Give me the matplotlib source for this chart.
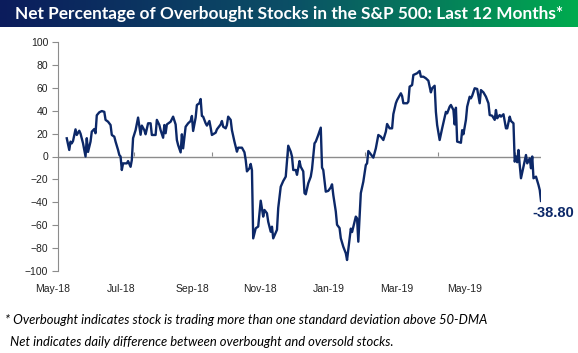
import numpy as np
import pandas as pd
import matplotlib
matplotlib.use("Agg")
import matplotlib.pyplot as plt
from matplotlib.colors import LinearSegmentedColormap
from matplotlib import transforms

# days since 2018-05-01 and net % overbought
days = [7, 9, 10, 11, 12, 14, 15, 17, 18, 20, 22, 23, 24, 26, 27, 29, 30, 31, 33, 35,
        37, 38, 40, 42, 43, 45, 46, 48, 49, 50, 51, 52, 55, 56, 58, 59, 60, 62, 64, 66,
        67, 69, 70, 72, 74, 75, 78, 79, 81, 82, 84, 85, 86, 87, 90, 92, 94, 95, 96, 98,
        99, 100, 102, 104, 106, 107, 108, 110, 111, 113, 114, 115, 116, 118, 119, 121, 122, 123, 126, 127,
        130, 131, 132, 134, 135, 136, 138, 139, 141, 143, 144, 147, 149, 150, 151, 153, 154, 155, 156, 158,
        160, 162, 164, 165, 167, 168, 170, 171, 172, 175, 176, 178, 180, 182, 184, 186, 187, 188, 190, 191,
        193, 194, 196, 197, 198, 200, 202, 203, 205, 206, 208, 210, 211, 212, 214, 216, 218, 219, 220, 222,
        223, 225, 226, 228, 230, 231, 233, 234, 235, 238, 239, 240, 242, 244, 246, 247, 248, 250, 252, 254,
        256, 258, 260, 262, 263, 265, 267, 268, 270, 271, 274, 275, 276, 279, 280, 281, 283, 284, 287, 289,
        290, 292, 294, 296, 298, 299, 301, 302, 303, 305, 307, 310, 311, 313, 314, 316, 317, 318, 319, 322,
        323, 324, 326, 327, 329, 330, 331, 333, 335, 337, 338, 340, 342, 344, 345, 347, 349, 350, 351, 353,
        354, 356, 358, 359, 361, 362, 364, 365, 366, 367, 368, 369, 370, 372, 374, 375, 377, 378, 379, 380,
        382, 384, 385, 386]
net = [15.9, 5.7, 13, 11.5, 13.5, 23.7, 18.8, 22.5, 20, 11.5, 0, 16, 4, 13, 21.7, 24, 20.3, 36, 38.6, 39.7,
       39, 32, 30.4, 27.5, 18.8, 17.3, 13, 5.7, 1.3, 0, -11.8, -6, -6, -4, -9, -3, 16, 23, 34, 19,
       27, 23, 19.4, 29, 29, 18.8, 18.8, 32, 27.5, 23, 16.4, 27.5, 20.3, 28, 30.4, 34.8, 28, 14.4, 10, 3.6,
       19.4, 7.1, 26, 29, 31, 35.4, 22.3, 34, 45, 46.5, 50.2, 35.4, 34.8, 29, 27, 31, 25.2, 18.8, 20.8, 23.7,
       28, 31, 26, 24.6, 27.5, 34.8, 32, 23, 13, 4.2, 7.7, 7.7, 3.7, -3, -13, -10.3, -6.5, -12, -71.5, -62.7,
       -61.2, -38.6, -52.5, -46.7, -49.6, -57, -65.7, -61.3, -71.5, -64, -45, -26.4, -21.4, -17.6, 9.4, 4.2, 0, -11.8, -11.8, -16,
       -4, -9, -13, -32, -33, -23.4, -17.6, -11, 11.5, 13, 18.8, 25.2, -9.7, -11.8, -30.7, -30, -27, -24.3, -33.6, -48,
       -59.6, -62.5, -71.4, -78.8, -84.5, -90.4, -72, -63, -66, -52.5, -54, -74.4, -32, -22, -7.4, -6, 4.8, 1.9, -1, 7.1,
       18.8, 17.3, 14.4, 21.7, 28.4, 24.6, 24.6, 37, 46.5, 49.3, 55.2, 52.8, 46.5, 46.5, 47.9, 61, 62.4, 71.2, 72.7, 74.7,
       69.7, 69.7, 68.3, 66.2, 56, 59.6, 61.8, 39, 27.5, 14.4, 24.6, 39, 37.7, 43.5, 45, 40.6, 28, 42.6, 13, 12,
       23, 19.4, 32, 43.5, 52.2, 50.8, 53, 59.6, 59, 46.5, 58, 56, 52.2, 46.5, 36.2, 35.6, 32, 40.6, 33.4, 36.2,
       34.8, 36.9, 24.6, 24.6, 34.8, 31, 29, -4.5, 0, -5, 5.7, -7.4, -19, -9, 1.3, -6, -1.6, -10.3, 0, -19,
       -17.6, -24.9, -29.3, -38.8]

month_ticks = ["2018-05-01", "2018-07-01", "2018-09-01", "2018-11-01",
               "2019-01-01", "2019-03-01", "2019-05-01"]
month_labels = ["May-18", "Jul-18", "Sep-18", "Nov-18", "Jan-19", "Mar-19", "May-19"]
# where the labels sit in the reference (slightly off the tick marks)
label_days = [-4, 50.4, 107.2, 161.6, 216.8, 270.4, 324.8]

start = pd.Timestamp("2018-05-01")
dates = start + pd.to_timedelta(days, unit="D")

navy = "#0c2868"
grey = "#8c8c8c"

fig = plt.figure(figsize=(5.78, 3.53), dpi=100)

# title bar with gradient
tax = fig.add_axes([0, 1 - 27 / 353, 1, 27 / 353])
cmap = LinearSegmentedColormap.from_list("bar", ["#0b1c5c", "#0b4f66", "#00ab4f"])
tax.imshow(np.linspace(0, 1, 256)[None, :], aspect="auto", cmap=cmap, extent=[0, 1, 0, 1])
tax.set_axis_off()
tax.text(0.5, 0.5, "Net Percentage of Overbought Stocks in the S&P 500: Last 12 Months*",
         color="white", fontsize=12.4, fontweight="bold", family="Lato",
         ha="center", va="center", transform=tax.transAxes)

ax = fig.add_axes([58 / 578, 1 - 271 / 353, (541 - 58) / 578, 229 / 353])
ax.plot(dates, net, color=navy, lw=1.7, zorder=3)
ax.axhline(0, color=grey, lw=1, zorder=1)

ax.set_xlim(start, start + pd.Timedelta(days=386))
ax.set_ylim(-100, 100)
ax.set_yticks(range(-100, 101, 20))
ax.tick_params(axis="y", length=4, color=grey, labelsize=7.5, labelcolor="#222222", pad=3)
for lab in ax.get_yticklabels():
    lab.set_family("Liberation Sans")

for s in ["top", "right", "bottom"]:
    ax.spines[s].set_visible(False)
ax.spines["left"].set_color(grey)

# tick marks on the zero line
ax.set_xticks([])
sec = ax.secondary_xaxis(0.5)
sec.set_xticks(pd.to_datetime(month_ticks))
sec.set_xticklabels([])
sec.tick_params(length=3, color=grey)
for sp in sec.spines.values():
    sp.set_visible(False)

trans = transforms.blended_transform_factory(ax.transData, ax.transAxes)
for d, lab in zip(label_days, month_labels):
    ax.text(start + pd.Timedelta(days=d), -0.08, lab, transform=trans, ha="center", va="center",
            fontsize=7.5, color="#222222", family="Liberation Sans")

ax.annotate(f"{net[-1]:.2f}", xy=(dates[-1], net[-1]), xytext=(-6, -9), textcoords="offset points",
            ha="left", va="center", color=navy, fontsize=10.5, fontweight="bold",
            family="Liberation Sans", annotation_clip=False)

fig.text(5 / 578, 1 - 320 / 353,
         "* Overbought indicates stock is trading more than one standard deviation above 50-DMA",
         fontsize=9.4, style="italic", family="Lato", color="black", va="center")
fig.text(10 / 578, 1 - 342 / 353,
         "Net indicates daily difference between overbought and oversold stocks.",
         fontsize=9.4, style="italic", family="Lato", color="black", va="center")

fig.savefig("out.png", dpi=100)
